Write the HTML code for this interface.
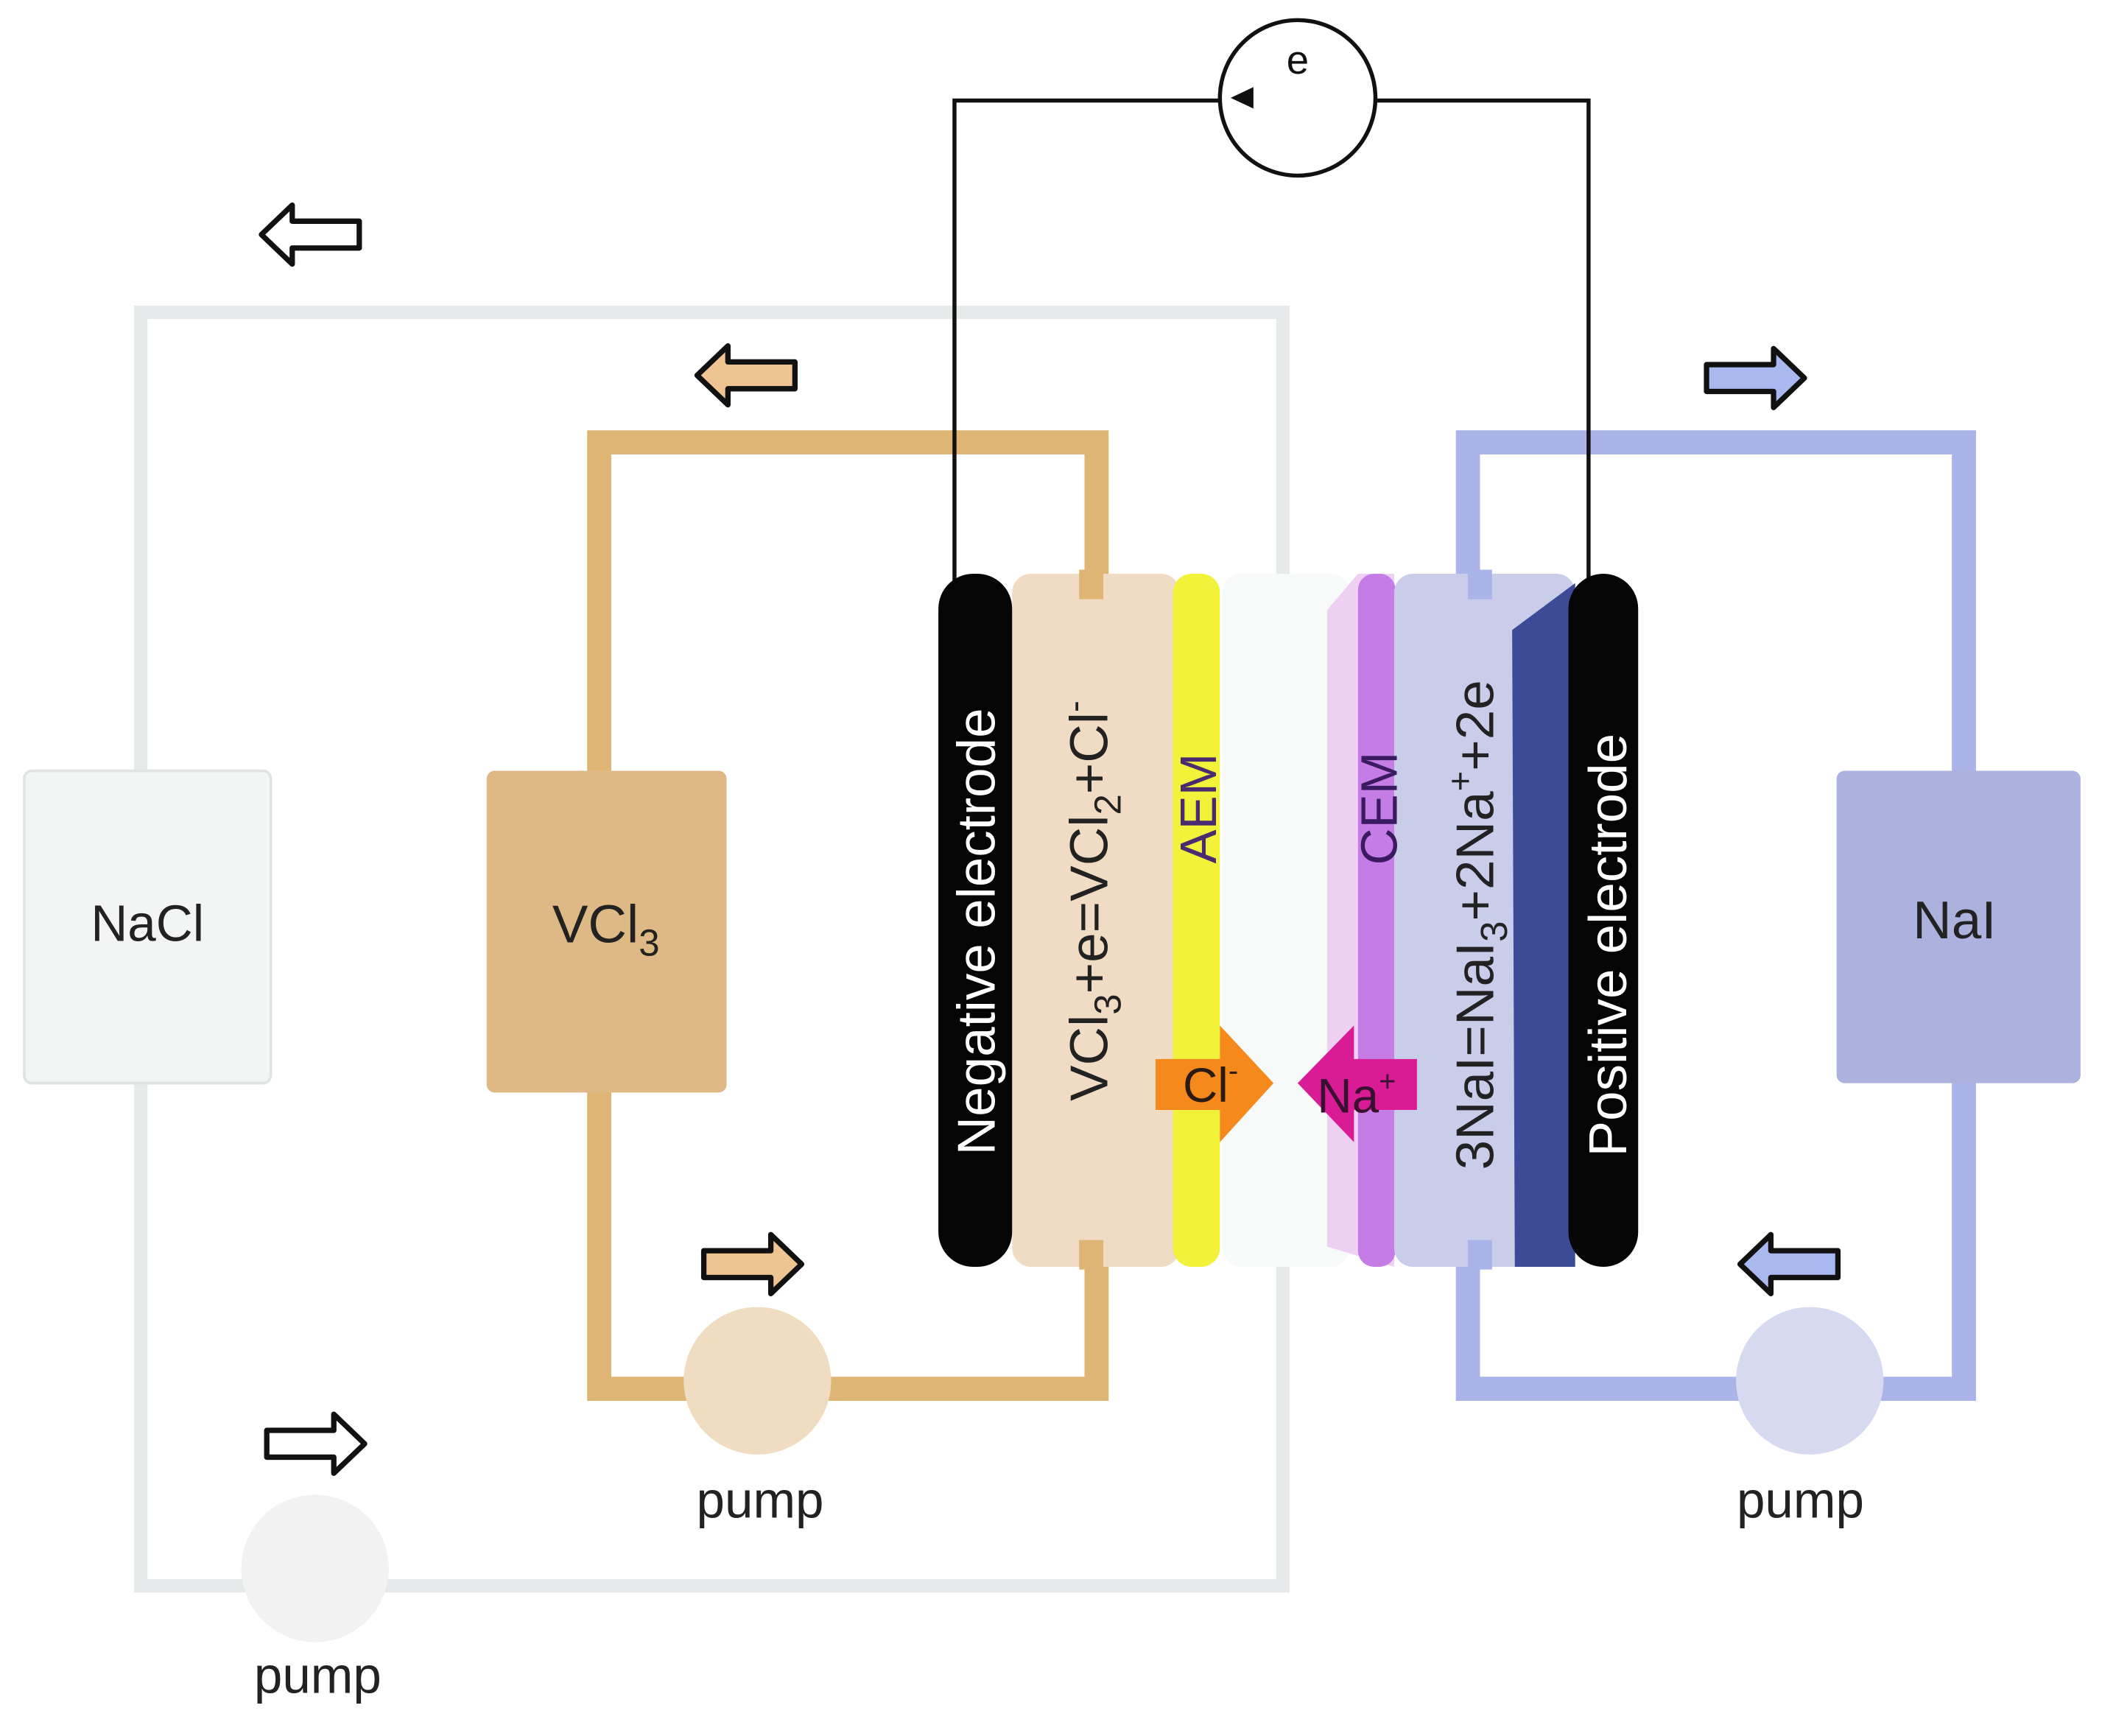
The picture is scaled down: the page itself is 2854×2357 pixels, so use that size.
<!DOCTYPE html>
<html><head><meta charset="utf-8"><style>html,body{margin:0;padding:0;background:#fff}svg{display:block}</style></head>
<body>
<svg width="2854" height="2357" viewBox="0 0 1568 1295" preserveAspectRatio="none" xmlns="http://www.w3.org/2000/svg" font-family="Liberation Sans, sans-serif">
<!-- NaCl loop -->
<g fill="none" stroke="#e6eaea" stroke-width="10">
<rect x="105" y="233" width="852" height="950"/>
</g>
<rect x="18" y="575" width="184" height="233" fill="#f3f5f5" stroke="#dfe3e3" stroke-width="2" rx="6"/>
<text x="110" y="702" font-size="38" text-anchor="middle" fill="#222">NaCl</text>
<circle cx="235" cy="1170" r="55" fill="#f2f2f2"/>
<text x="237" y="1263" font-size="38" text-anchor="middle" fill="#222">pump</text>
<path d="M195 175 L218 153 L218 165 L268 165 L268 185 L218 185 L218 197 Z" fill="#fff" stroke="#111" stroke-width="4" stroke-linejoin="round"/>
<path d="M272 1077 L249 1055 L249 1067 L199 1067 L199 1087 L249 1087 L249 1099 Z" fill="#fff" stroke="#111" stroke-width="4" stroke-linejoin="round"/>
<!-- orange loop -->
<rect x="447" y="330" width="371" height="706" fill="none" stroke="#deb574" stroke-width="18"/>
<rect x="363" y="575" width="179" height="240" fill="#dfb985" rx="6"/>
<text x="452" y="703" font-size="40" text-anchor="middle" fill="#222">VCl<tspan font-size="28" dy="10">3</tspan></text>
<circle cx="565" cy="1030" r="55" fill="#f0dcc0"/>
<text x="567" y="1132" font-size="38" text-anchor="middle" fill="#222">pump</text>
<path d="M520 280 L543 258 L543 270 L593 270 L593 290 L543 290 L543 302 Z" fill="#efc493" stroke="#111" stroke-width="4" stroke-linejoin="round"/>
<path d="M598 943 L575 921 L575 933 L525 933 L525 953 L575 953 L575 965 Z" fill="#efc493" stroke="#111" stroke-width="4" stroke-linejoin="round"/>
<!-- blue loop -->
<rect x="1095" y="330" width="370" height="706" fill="none" stroke="#aab4e8" stroke-width="18"/>
<rect x="1370" y="575" width="182" height="233" fill="#aab2dd" rx="6"/>
<text x="1458" y="700" font-size="40" text-anchor="middle" fill="#222">NaI</text>
<circle cx="1350" cy="1030" r="55" fill="#d6d9ef"/>
<text x="1343" y="1132" font-size="38" text-anchor="middle" fill="#222">pump</text>
<path d="M1346 282 L1323 260 L1323 272 L1273 272 L1273 292 L1323 292 L1323 304 Z" fill="#a9b8ee" stroke="#111" stroke-width="4" stroke-linejoin="round"/>
<path d="M1298 943 L1321 921 L1321 933 L1371 933 L1371 953 L1321 953 L1321 965 Z" fill="#a9b8ee" stroke="#111" stroke-width="4" stroke-linejoin="round"/>
<!-- wires -->
<path d="M712 435 L712 75 L1185 75 L1185 435" fill="none" stroke="#111" stroke-width="3"/>
<circle cx="968" cy="73" r="58" fill="#fff" stroke="#111" stroke-width="3"/>
<path d="M918 73 L935 65 L935 81 Z" fill="#111"/>
<text x="968" y="55" font-size="30" text-anchor="middle" fill="#111">e</text>
<!-- cell -->
<rect x="755" y="428" width="125" height="517" rx="14" fill="#f0dcc4"/>
<rect x="912" y="428" width="95" height="517" rx="14" fill="#f8f9f9"/>
<path d="M990 455 L1013 428 L1040 428 L1040 945 L990 930 Z" fill="#eed0f3"/>
<rect x="1013" y="428" width="28" height="517" rx="12" fill="#c57ce6"/>
<rect x="1040" y="428" width="135" height="517" rx="14" fill="#c9cdea"/>
<path d="M1128 470 L1175 435 L1175 945 L1130 945 Z" fill="#3d4a96"/>
<rect x="875" y="428" width="35" height="517" rx="14" fill="#f2f23a"/>
<rect x="700" y="428" width="55" height="517" rx="26" fill="#050505"/>
<rect x="1170" y="428" width="52" height="517" rx="26" fill="#050505"/>
<rect x="805" y="425" width="18" height="22" fill="#deb574"/>
<rect x="805" y="925" width="18" height="22" fill="#deb574"/>
<rect x="1095" y="425" width="18" height="22" fill="#aab4e8"/>
<rect x="1095" y="925" width="18" height="22" fill="#aab4e8"/>
<!-- ion arrows -->
<path d="M862 790 L910 790 L910 765 L950 808 L910 852 L910 828 L862 828 Z" fill="#f5891b"/>
<text x="903" y="822" font-size="36" text-anchor="middle" fill="#2a1a10">Cl<tspan font-size="22" dy="-16">-</tspan></text>
<path d="M1057 790 L1010 790 L1010 765 L968 808 L1010 852 L1010 828 L1057 828 Z" fill="#d91c95"/>
<text x="1012" y="830" font-size="36" text-anchor="middle" fill="#3a1030">Na<tspan font-size="22" dy="-16">+</tspan></text>
<!-- rotated labels -->
<text transform="translate(742,695) rotate(-90)" font-size="40" text-anchor="middle" fill="#fff">Negative electrode</text>
<text transform="translate(826,672) rotate(-90)" font-size="40" text-anchor="middle" fill="#222">VCl<tspan font-size="28" dy="10">3</tspan><tspan dy="-10">+e=VCl</tspan><tspan font-size="28" dy="10">2</tspan><tspan dy="-10">+Cl</tspan><tspan font-size="26" dy="-16">-</tspan></text>
<text transform="translate(907,603) rotate(-90)" font-size="38" text-anchor="middle" fill="#4a2a70">AEM</text>
<text transform="translate(1042,603) rotate(-90)" font-size="38" text-anchor="middle" fill="#3a1a60">CEM</text>
<text transform="translate(1114,690) rotate(-90)" font-size="40" text-anchor="middle" fill="#222">3NaI=NaI<tspan font-size="28" dy="10">3</tspan><tspan dy="-10">+2Na</tspan><tspan font-size="26" dy="-16">+</tspan><tspan dy="16">+2e</tspan></text>
<text transform="translate(1213,705) rotate(-90)" font-size="40" text-anchor="middle" fill="#fff">Positive electrode</text>
</svg>
</body></html>
